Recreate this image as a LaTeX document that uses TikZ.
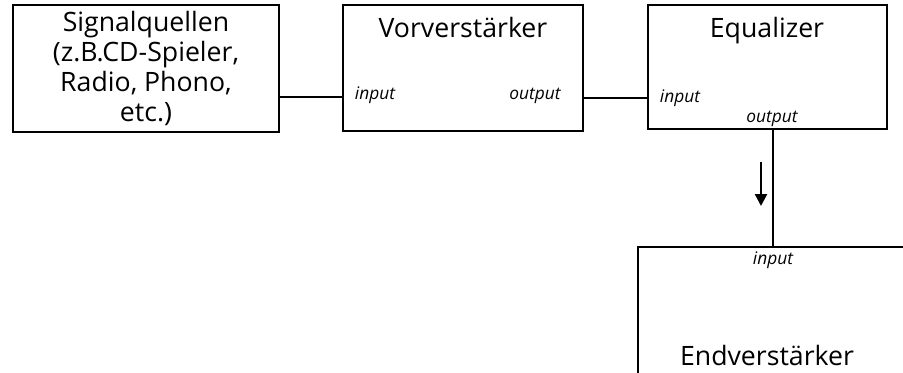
\documentclass[tikz,border=0pt]{standalone}
\usepackage{fontspec}
\setmainfont{Open Sans}
\usetikzlibrary{arrows.meta}
\newlength\px
\setlength\px{0.75pt}
\begin{document}
\begin{tikzpicture}[x=0.75pt,y=-0.75pt]

	\tikzstyle{mybox}=[rectangle,
	draw=black,
	line width=2pt,
	inner sep=0pt,
	align=center,
	font=\fontsize{20}{22.5}\selectfont
	]
	\tikzstyle{mytitle}=[inner sep=0pt, anchor=base, font=\fontsize{20}{22.5}\selectfont]
	\tikzstyle{myport}=[inner sep=0pt, anchor=base, font=\fontsize{13}{14}\selectfont\itshape]
	\tikzstyle{myline}=[-, line width=1.8pt]
	\tikzstyle{myarrow}=[-{Triangle[width=9pt,length=9pt]}, line width=1.8pt]

	\clip (0,0) rectangle (903,372);
	\useasboundingbox (0,0) rectangle (903,372);

	\coordinate (psig) at (146, 68.5);
	\coordinate (pvor) at (463, 68);
	\coordinate (pequ) at (767.5, 67);
	\coordinate (pend) at (773, 328.5);

	\node[mybox, minimum width=266\px, minimum height=127\px] (sig) at (psig) {Signalquellen\\(z.B.CD-Spieler,\\Radio, Phono,\\etc.)};
	\node[mybox, minimum width=240\px, minimum height=126\px] (vor) at (pvor) {};
	\node[mybox, minimum width=239\px, minimum height=124\px] (equ) at (pequ) {};
	\node[mybox, minimum width=270\px, minimum height=163\px] (end) at (pend) {};

	\node[mytitle] (vortitle) at (463, 37) {Vorverstärker};
	\node[mytitle] (equtitle) at (767, 37) {Equalizer};
	\node[mytitle] (endtitle) at (767, 365) {Endverstärker};

	\node[myport] (vorin) at (375, 99) {input};
	\node[myport] (vorout) at (535, 99) {output};
	\node[myport] (equin) at (680, 102) {input};
	\node[myport] (equout) at (772, 122) {output};
	\node[myport] (endin) at (773, 264) {input};

	\coordinate (l1) at (0, 97);
	\coordinate (l2) at (0, 98);
	\coordinate (l3) at (773, 0);
	\coordinate (a1) at (761, 162);
	\coordinate (a2) at (761, 206);

	\draw[myline] (sig.east |- l1) -- (vor.west |- l1);
	\draw[myline] (vor.east |- l2) -- (equ.west |- l2);
	\draw[myline] (equ.south -| l3) -- (end.north -| l3);

	\draw[myarrow] (a1) -- (a2);

\end{tikzpicture}
\end{document}
